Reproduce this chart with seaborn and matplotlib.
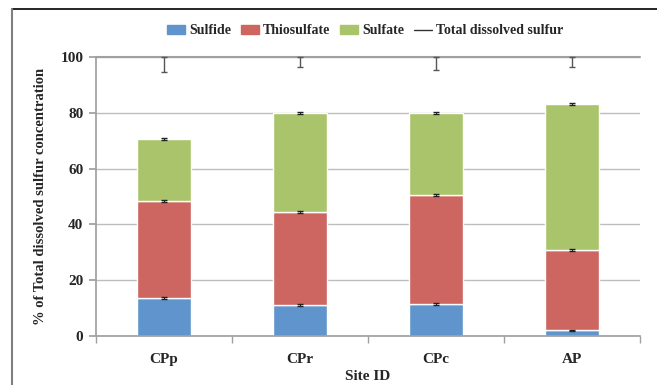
import matplotlib
matplotlib.use("Agg")
import matplotlib.pyplot as plt
import seaborn as sns
import pandas as pd
import numpy as np
from matplotlib.patches import Patch
from matplotlib.lines import Line2D

sites = ["CPp", "CPr", "CPc", "AP"]
sulfide = [13.6, 11.0, 11.5, 2.0]
thiosulfate = [34.8, 33.5, 39.0, 28.8]
sulfate = [22.1, 35.5, 29.5, 52.4]
total = [100, 100, 100, 100]
total_err = [5.4, 3.6, 4.7, 3.6]
seg_err = [0.3, 0.3, 0.3, 0.3]

colors = {"Sulfide": "#5F95CC", "Thiosulfate": "#CD6660", "Sulfate": "#AAC46B"}

sns.set_theme(style="white")
plt.rcParams["font.family"] = ["Liberation Serif", "DejaVu Serif"]
plt.rcParams["font.weight"] = "bold"

fig = plt.figure(figsize=(6.57, 3.85), dpi=100)
ax = fig.add_axes([96/657, 1-336/385, (640-96)/657, (336-57)/385])

df = pd.DataFrame({"site": sites, "Sulfide": sulfide,
                   "Thiosulfate": thiosulfate, "Sulfate": sulfate})
b1 = np.array(sulfide)
b2 = b1 + np.array(thiosulfate)
b3 = b2 + np.array(sulfate)

sns.barplot(data=df, x="site", y="Sulfide", order=sites, color=colors["Sulfide"],
            width=0.4, ax=ax, saturation=1, errorbar=None, zorder=2)
sns.barplot(data=df, x="site", y="Thiosulfate", order=sites, color=colors["Thiosulfate"],
            width=0.4, ax=ax, saturation=1, errorbar=None, bottom=b1, zorder=2)
sns.barplot(data=df, x="site", y="Sulfate", order=sites, color=colors["Sulfate"],
            width=0.4, ax=ax, saturation=1, errorbar=None, bottom=b2, zorder=2)

xpos = np.arange(len(sites))
for tops in (b1, b2, b3):
    ax.errorbar(xpos, tops, yerr=seg_err, fmt="none", ecolor="#222222",
                elinewidth=0.8, capsize=2.5, capthick=1, zorder=4)

# total dissolved sulfur line
xl = np.concatenate([[-0.5], xpos, [3.5]])
yl = np.concatenate([[total[0]], total, [total[-1]]])
ax.plot(xl, yl, color="#A0A0A0", lw=1.5, zorder=3, clip_on=False)
ax.errorbar(xpos, total, yerr=[total_err, [0]*4], fmt="none", ecolor="#555555",
            elinewidth=1, capsize=2.5, capthick=1, zorder=4, clip_on=False)

ax.set_xlim(-0.5, 3.5)
ax.set_ylim(0, 100)
ax.set_yticks([0, 20, 40, 60, 80, 100])
ax.yaxis.grid(True, color="#BDBDBD", lw=1)
ax.set_axisbelow(True)
for s in ["top", "right"]:
    ax.spines[s].set_visible(False)
ax.spines["left"].set_color("#A0A0A0")
ax.spines["bottom"].set_color("#A0A0A0")
ax.tick_params(axis="y", left=True, length=5, color="#A0A0A0", labelsize=11, pad=4)
ax.tick_params(axis="x", bottom=False, labelsize=11, pad=6)
ax.set_xticks(np.arange(-0.5, 4, 1), minor=True)
ax.tick_params(axis="x", which="minor", bottom=True, length=5, color="#A0A0A0")
for lab in ax.get_xticklabels() + ax.get_yticklabels():
    lab.set_fontweight("bold")
ax.set_xlabel("Site ID", fontsize=11, fontweight="bold", labelpad=3)
ax.set_ylabel("% of Total dissolved sulfur concentration", fontsize=10.5,
              fontweight="bold", labelpad=10)

handles = [Patch(color=colors["Sulfide"], label="Sulfide"),
           Patch(color=colors["Thiosulfate"], label="Thiosulfate"),
           Patch(color=colors["Sulfate"], label="Sulfate"),
           Line2D([0], [0], color="#333333", lw=1, label="Total dissolved sulfur")]
fig.legend(handles=handles, loc="center", bbox_to_anchor=(0.556, 1-31/385), ncol=4,
           frameon=False, handlelength=1.3, handleheight=0.6,
           columnspacing=0.7, handletextpad=0.3, prop={"weight": "bold", "size": 10})

# figure frame (top and left edges)
fig.add_artist(Line2D([12/657, 1], [1-9/385, 1-9/385], transform=fig.transFigure,
                      color="black", lw=1.2))
fig.add_artist(Line2D([12/657, 12/657], [0, 1-9/385], transform=fig.transFigure,
                      color="#808080", lw=1.5))

fig.savefig("out.png", dpi=100)
